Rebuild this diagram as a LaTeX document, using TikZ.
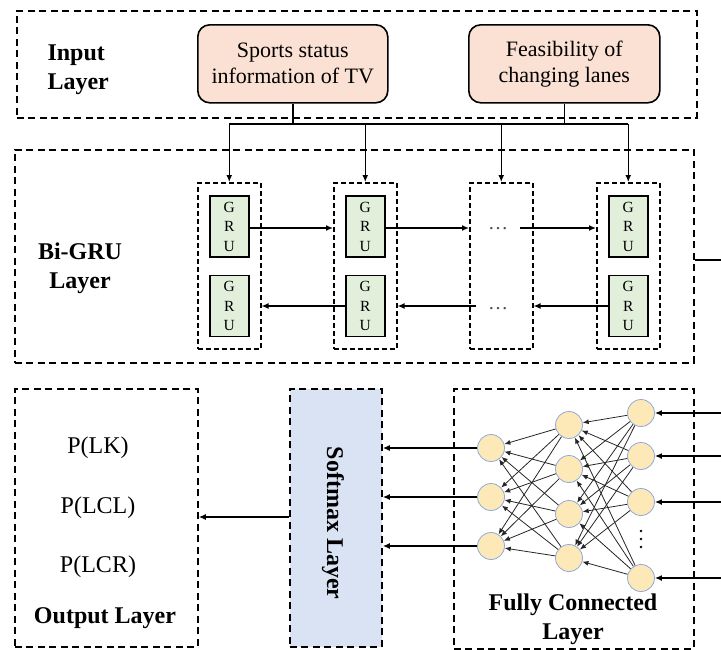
\documentclass[tikz,border=0pt]{standalone}
\usepackage{fontspec}
\setmainfont{Liberation Serif}
\newfontfamily\tnr{Liberation Serif}
\usetikzlibrary{arrows.meta}
\definecolor{inpfill}{HTML}{FBE1D4}
\definecolor{grufill}{HTML}{E2EFDA}
\definecolor{smfill}{HTML}{DAE3F3}
\definecolor{neufill}{HTML}{FDE9B8}
\definecolor{neudraw}{HTML}{8EA9DB}
\begin{document}
\begin{tikzpicture}[x=1pt,y=-1pt,
  layerbox/.style={draw, line width=1.8pt, dash pattern=on 7pt off 4.5pt, inner sep=0pt, anchor=north west},
  colbox/.style={draw, line width=1.5pt, dash pattern=on 5pt off 3pt, inner sep=0pt, anchor=north west, minimum width=63, minimum height=166},
  inbox/.style={draw, line width=1.6pt, rounded corners=12pt, fill=inpfill, inner sep=0pt, anchor=north west, minimum height=78, align=center, font=\tnr\fontsize{22}{26}\selectfont},
  grubox/.style={draw, line width=1.6pt, fill=grufill, inner sep=0pt, minimum width=39, minimum height=61, align=center, font=\tnr\fontsize{15.5}{19.5}\selectfont},
  neuron/.style={circle, draw=neudraw, line width=0.8pt, fill=neufill, minimum size=27, inner sep=0pt},
  conn/.style={line width=1.4pt},
  arr/.style={line width=1.4pt, -{Latex[length=7pt,width=6pt]}},
  fcarr/.style={line width=0.8pt, draw=black!85, -{Latex[length=6pt,width=5pt]}},
  btxt/.style={font=\tnr\fontsize{24}{29}\selectfont\bfseries},
  ntxt/.style={font=\tnr\fontsize{24}{28}\selectfont},
  dots/.style={font=\tnr\fontsize{20}{20}\selectfont, minimum width=44, inner sep=0pt}
]
\useasboundingbox (0,0) rectangle (721,649);

% ---------- Input layer ----------
\node[layerbox, minimum width=680, minimum height=107] (inL) at (16,10) {};
\node[btxt, align=left, anchor=west] (inLt) at (44,70) {Input\\Layer};
\node[inbox, minimum width=190] (sp) at (197,24) {Sports status\\information of TV};
\node[inbox, minimum width=191] (fe) at (468,24) {Feasibility of\\changing lanes};

% ---------- Bi-GRU layer ----------
\node[layerbox, minimum width=679, minimum height=213] (bg) at (14,149) {};
\node[btxt, align=center] (bgt) at (80,268) {Bi-GRU\\Layer};

\node[colbox] (c1) at (197,182) {};
\node[colbox] (c2) at (333,182) {};
\node[colbox] (c3) at (469,182) {};
\node[colbox] (c4) at (596,182) {};

\node[grubox] (g1t) at (c1.center |- 0,226.5) {G\\R\\U};
\node[grubox] (g1b) at (c1.center |- 0,306) {G\\R\\U};
\node[grubox] (g2t) at (c2.center |- 0,226.5) {G\\R\\U};
\node[grubox] (g2b) at (c2.center |- 0,306) {G\\R\\U};
\node[grubox] (g4t) at (c4.center |- 0,226.5) {G\\R\\U};
\node[grubox] (g4b) at (c4.center |- 0,306) {G\\R\\U};
\node[dots] (d3t) at (498,229) {\textcolor{black!70}{…}};
\node[dots] (d3b) at (498,309) {\textcolor{black!70}{…}};

% input bus
\coordinate (busL) at (228,124);
\coordinate (busR) at (627,124);
\draw[conn] (sp.south) -- (sp.south |- busL);
\draw[conn] (fe.south) -- (fe.south |- busL);
\draw[conn] (busL -| c1.north) -- (busR -| c4.north);
\draw[arr] (c1.north |- busL) -- (c1.north);
\draw[arr] (c2.north |- busL) -- (c2.north);
\draw[arr] (c3.north |- busL) -- (c3.north);
\draw[arr] (c4.north |- busL) -- (c4.north);

% forward
\draw[arr] ([yshift=-1.5]g1t.east) -- ([yshift=-1.5]g1t.east -| c2.west);
\draw[arr] ([yshift=-1.5]g2t.east) -- ([yshift=-1.5]g2t.east -| c3.west);
\draw[arr] ([yshift=-1.5]d3t.east |- g2t.east) -- ([yshift=-1.5]g4t.west -| c4.west);
% backward
\draw[arr] (g4b.west) -- (g4b.west -| c3.east);
\draw[arr] (d3b.west |- g4b.west) -- (g4b.west -| c2.east);
\draw[arr] (g2b.west) -- (g2b.west -| c1.east);

% exit line on the right
\coordinate (bgout) at (721,260);
\draw[conn] (bgout -| bg.east) -- (bgout);

% ---------- Bottom ----------
\node[layerbox, minimum width=183, minimum height=258] (out) at (14,388) {};
\node[layerbox, fill=smfill, minimum width=92, minimum height=258] (sm) at (289,388) {};
\node[layerbox, minimum width=240, minimum height=260] (fc) at (453,388) {};

\node[ntxt] (p1) at (98,448) {P(LK)};
\node[ntxt] (p2) at (98,508) {P(LCL)};
\node[ntxt] (p3) at (98,567) {P(LCR)};
\node[btxt] (outt) at (105,618) {Output Layer};
\node[btxt, rotate=-90] (smt) at (333,523) {Softmax Layer};
\node[btxt, align=center] (fct) at (573,619) {Fully Connected\\Layer};

\draw[arr] (sm.west |- 0,517) -- (out.east |- 0,517);

% neurons
\node[neuron] (l1) at (491,448) {};
\node[neuron] (l2) at (491,497) {};
\node[neuron] (l3) at (491,546) {};
\node[neuron] (m1) at (569,425) {};
\node[neuron] (m2) at (569,469) {};
\node[neuron] (m3) at (569,514) {};
\node[neuron] (m4) at (569,558) {};
\node[neuron] (r1) at (641,413) {};
\node[neuron] (r2) at (641,456) {};
\node[neuron] (r3) at (641,502) {};
\node[neuron] (r4) at (641,578) {};
\foreach \yy in {531,539,547} \fill (641,\yy) circle (1.4pt);

\foreach \i in {1,2,3,4} \foreach \j in {1,2,3,4} \draw[fcarr] (r\i) -- (m\j);
\foreach \i in {1,2,3,4} \foreach \j in {1,2,3} \draw[fcarr] (m\i) -- (l\j);

\foreach \i in {1,2,3} \draw[arr] (l\i.west) -- (l\i.west -| sm.east);

\foreach \i/\yy in {1/413,2/456,3/502,4/578} {
  \coordinate (e\i) at (721,\yy);
  \draw[arr] (e\i) -- (r\i.east);
}
\end{tikzpicture}
\end{document}
